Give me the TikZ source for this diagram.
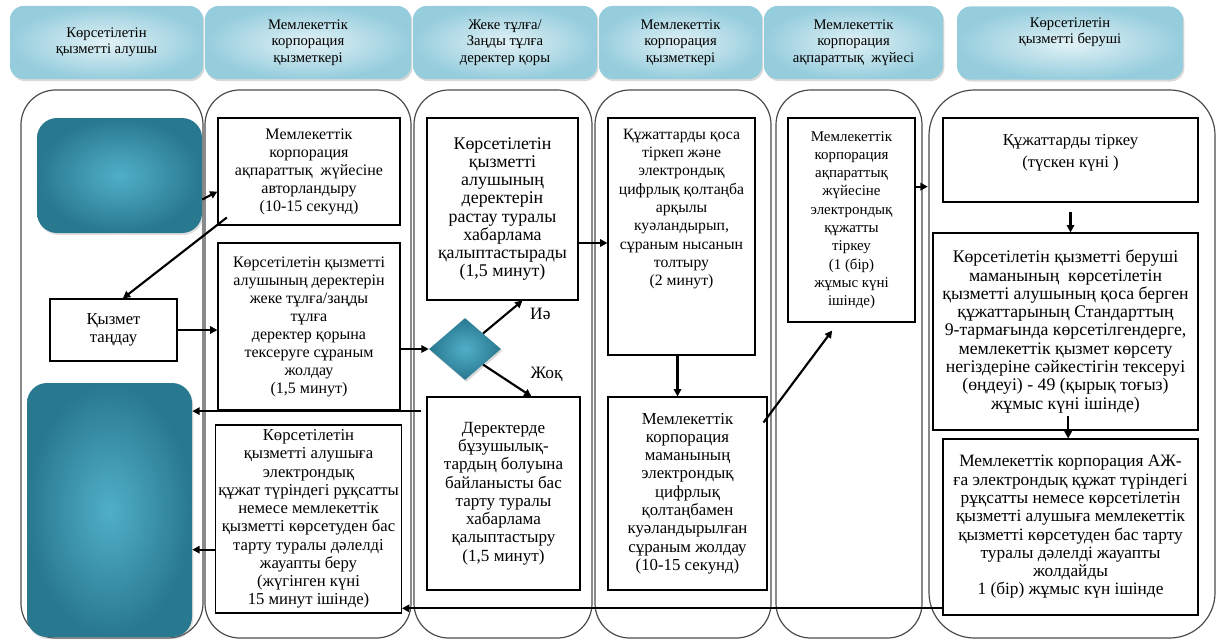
\documentclass[tikz,border=0pt]{standalone}
\usepackage{fontspec}
\setmainfont{Liberation Serif}
\usepackage{tikz}
\usetikzlibrary{shapes.geometric, arrows.meta, positioning, shadows}

\definecolor{celeste}{RGB}{226,242,246}
\definecolor{celesteosc}{RGB}{150,205,221}
\definecolor{azulclaro}{RGB}{80,175,200}
\definecolor{azulosc}{RGB}{40,120,143}

\begin{document}
\begin{tikzpicture}[
    x=0.75pt, y=-0.75pt,
    every node/.style={align=center, font=\fontsize{12}{13.5}\selectfont, inner sep=2pt},
    letra/.style={font=\fontsize{#1}{13.7}\selectfont},
    medida/.style 2 args={minimum width=#1*0.75pt, minimum height=#2*0.75pt},
    titulo/.style={rectangle, rounded corners=10pt, inner color=celeste, outer color=celesteosc,
                   drop shadow={opacity=0.3, shadow xshift=1pt, shadow yshift=-1.5pt},
                   font=\fontsize{11}{12.2}\selectfont},
    carril/.style={rectangle, rounded corners=26pt, draw=black!70, line width=0.9pt},
    bloque/.style={rectangle, rounded corners=15pt, inner color=azulclaro, outer color=azulosc,
                   drop shadow={opacity=0.25, shadow xshift=1pt, shadow yshift=-1.5pt}},
    cuadro/.style={rectangle, draw, line width=0.8pt, fill=white},
    rombo/.style={diamond, inner sep=0pt, inner color=azulclaro, outer color=azulosc,
                  drop shadow={opacity=0.3, shadow xshift=1pt, shadow yshift=-1.5pt}},
    flechas/.style={-{Triangle[length=5.5pt, width=5.5pt]}, line width=1.6pt}
]
    \useasboundingbox (0,0) rectangle (1219,642);

    % carriles
    \node[carril, medida={182}{548}] (cA) at (112,364) {};
    \node[carril, medida={206}{548}] (cB) at (308,364) {};
    \node[carril, medida={178}{548}] (cC) at (503,364) {};
    \node[carril, medida={176}{548}] (cD) at (683,364) {};
    \node[carril, medida={146}{548}] (cE) at (849,364) {};
    \node[carril, medida={286}{548}, rounded corners=34pt] (cF) at (1072,364) {};

    % cabeceras
    \node[titulo, medida={193}{73}] (tA) at (106.5,42.5) {Көрсетілетін\\қызметті алушы};
    \node[titulo, medida={206}{73}] (tB) at (308,42.5)   {Мемлекеттік\\корпорация\\қызметкері};
    \node[titulo, medida={184}{73}] (tC) at (505,42.5)   {Жеке тұлға/\\Заңды тұлға\\деректер қоры};
    \node[titulo, medida={163}{73}] (tD) at (680.5,42.5) {Мемлекеттік\\корпорация\\қызметкері};
    \node[titulo, medida={179}{73}] (tE) at (853.5,42.5) {Мемлекеттік\\корпорация\\ақпараттық~~жүйесі};
    \node[titulo, medida={226}{73}] (tF) at (1070,43)    {Көрсетілетін\\қызметті беруші\\[6pt]~};

    % алушы
    \node[bloque, medida={165}{115}] (inicio) at (119.5,175.5) {};
    \node[bloque, medida={165}{254}] (final)  at (109.5,510)   {};
    \node[cuadro, medida={127}{62}, letra=12.5]  (tandau) at (113.5,330) {Қызмет\\таңдау};

    % қызметкер
    \node[cuadro, medida={182}{107}] (auth)   at (309,171.5) {Мемлекеттік\\корпорация\\ақпараттық~~жүйесіне\\авторландыру\\(10-15 секунд)};
    \node[cuadro, medida={182}{167}] (check)  at (309,326.5) {Көрсетілетін қызметті\\алушының деректерін\\жеке тұлға/заңды\\тұлға\\деректер қорына\\тексеруге сұраным\\жолдау\\(1,5 минут)};
    \node[cuadro, medida={183}{188}, letra=12.5] (result) at (308.5,519) {Көрсетілетін\\қызметті алушыға\\электрондық\\құжат түріндегі рұқсатты\\немесе мемлекеттік\\қызметті көрсетуден бас\\тарту туралы дәлелді\\жауапты беру\\(жүгінген күні\\15 минут ішінде)};

    % деректер қоры
    \node[cuadro, medida={151}{182}, letra=13.4] (confirm) at (502.5,209) {Көрсетілетін\\қызметті\\алушының\\деректерін\\растау туралы\\хабарлама\\қалыптастырады\\(1,5 минут)};
    \node[rombo, medida={72}{62}] (decide) at (465,349) {};
    \node[cuadro, medida={153}{193}, letra=12.8] (refuse) at (503.5,493.5) {Деректерде\\бұзушылық-\\тардың болуына\\байланысты бас\\тарту туралы\\хабарлама\\қалыптастыру\\(1,5 минут)};

    % қызметкер 2
    \node[cuadro, medida={147}{237}, letra=11.8] (attach) at (681.5,236.5) {Құжаттарды қоса\\тіркеп және\\электрондық\\цифрлық қолтаңба\\арқылы\\куәландырып,\\сұраным нысанын\\толтыру\\(2 минут)\\[30pt]~};
    \node[cuadro, medida={159}{193}, letra=12.6] (send) at (687.5,493.5) {Мемлекеттік\\корпорация\\маманының\\электрондық\\цифрлық\\қолтаңбамен\\куәландырылған\\сұраным жолдау\\(10-15 секунд)};

    % ақпараттық жүйе
    \node[cuadro, medida={127}{204}, letra=11.2] (register) at (851.5,220) {Мемлекеттік\\корпорация\\ақпараттық\\жүйесіне\\электрондық\\құжатты\\тіркеу\\(1 (бір)\\жұмыс күні\\ішінде)};

    % беруші
    \node[cuadro, medida={255}{84}, letra=12.5] (tirkeu) at (1070.5,160) {Құжаттарды тіркеу\\[3pt](түскен күні )\\~};
    \node[cuadro, medida={265}{197}, letra=13.3] (review) at (1065.5,331.5) {Көрсетілетін қызметті беруші\\маманының~~көрсетілетін\\қызметті алушының қоса берген\\құжаттарының Стандарттың\\9-тармағында көрсетілгендерге,\\мемлекеттік қызмет көрсету\\негіздеріне сәйкестігін тексеруі\\(өңдеуі) - 49 (қырық тоғыз)\\жұмыс күні ішінде)};
    \node[cuadro, medida={255}{176}, letra=13] (reply) at (1070.5,527) {Мемлекеттік корпорация АЖ-\\ға электрондық құжат түріндегі\\рұқсатты немесе көрсетілетін\\қызметті алушыға мемлекеттік\\қызметті көрсетуден бас тарту\\туралы дәлелді жауапты\\жолдайды\\1 (бір) жұмыс күн ішінде};

    % байланыстар
    \draw[flechas] ([yshift=-18pt]inicio.east) -- ([yshift=-15pt]auth.west);
    \draw[flechas] ([xshift=7pt,yshift=6pt]auth.south west) -- ([xshift=7pt]tandau.north);
    \draw[flechas] (tandau.east) -- (tandau.east -| check.west);
    \draw[flechas] (decide.west -| check.east) -- (decide.west);
    \draw[flechas] (decide.north east) -- ([xshift=15pt]confirm.south)
                   node[at end, below right, xshift=3pt, yshift=-3pt, letra=13]{Иә};
    \draw[flechas] (decide.south east) -- ([xshift=21pt]refuse.north)
                   node[pos=0.3, right=22pt, letra=13]{Жоқ};
    \draw[flechas] ([xshift=-4pt,yshift=-11pt]refuse.north west) coordinate (r1) -- (r1 -| final.east);
    \draw[flechas] ([yshift=-23pt]result.west) coordinate (r2) -- (r2 -| final.east);
    \draw[flechas] ([yshift=-61pt]reply.west) coordinate (r3) -- (r3 -| result.east);
    \draw[flechas] ([yshift=-25.5pt]confirm.east) coordinate (r4) -- (r4 -| attach.west);
    \draw[flechas] ([xshift=-3pt]attach.south) coordinate (r5) -- (r5 |- send.north);
    \draw[flechas] ([xshift=-3pt,yshift=-19.5pt]send.north east) -- ([xshift=-14.5pt,yshift=-6pt]register.south);
    \draw[flechas, shorten >=11pt] ([yshift=25pt]register.east) coordinate (r6) -- (r6 -| tirkeu.west);
    \draw[flechas, shorten <=7pt] (tirkeu.south) -- (tirkeu.south |- review.north);
    \draw[flechas] ([xshift=2pt,yshift=11pt]review.south) coordinate (r7) -- (r7 |- reply.north);
\end{tikzpicture}
\end{document}
